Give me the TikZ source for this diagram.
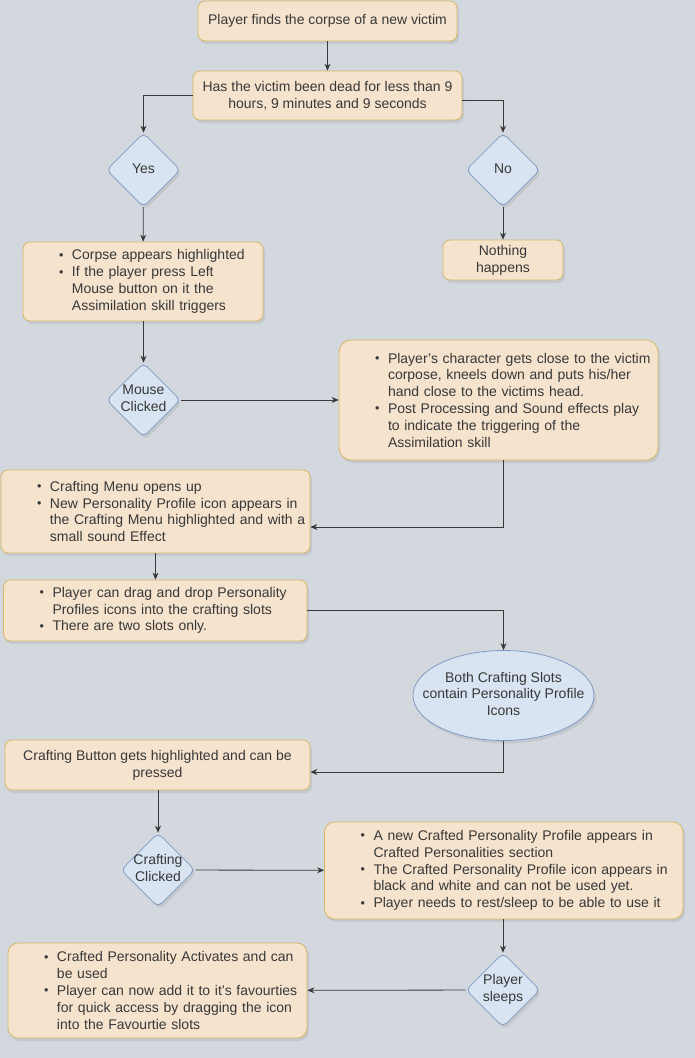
\documentclass[tikz,border=0pt]{standalone}
\usepackage{fontspec}
\setmainfont{Liberation Sans}
\usetikzlibrary{shapes.geometric,arrows.meta,shadows}

\definecolor{bg}{HTML}{D3D8DE}
\definecolor{boxfill}{HTML}{F5E3CE}
\definecolor{boxline}{HTML}{D4B765}
\definecolor{decfill}{HTML}{D9E4F2}
\definecolor{decline}{HTML}{7F9BC4}
\definecolor{ink}{HTML}{383838}

\newcommand{\itm}[1]{\mbox{\makebox[13pt][l]{\raisebox{0.6pt}{\fontsize{12.5}{12}\selectfont\textbullet}}#1}}
\newcommand{\cnt}[1]{\mbox{\hspace*{13pt}#1}}
\newcommand{\ctr}[1]{\makebox[0pt]{\raisebox{-1.5pt}{\begin{tabular}{@{}c@{}}#1\end{tabular}}}}

\begin{document}
\begin{tikzpicture}[x=1pt, y=-1pt, every node/.style={font=\fontsize{14}{16.8}\selectfont, text=ink, inner sep=0pt}, box/.style={draw=boxline, fill=boxfill, rounded corners=7pt, align=center, drop shadow={shadow xshift=2pt, shadow yshift=-3pt, opacity=0.18}}, listbox/.style={box, align=left, inner xsep=36pt}, decision/.style={diamond, aspect=1, draw=decline, fill=decfill, rounded corners=5pt, minimum size=74pt, drop shadow={shadow xshift=2pt, shadow yshift=-3pt, opacity=0.18}}, >={Stealth[length=7pt,width=6pt]}, line width=0.8pt]
\fill[bg] (0,0) rectangle (695,1058);
\useasboundingbox (0,0) rectangle (695,1058);

\node[box, minimum width=259pt, minimum height=40pt] (find) at (327.5,21) {Player finds the corpse of a new victim};
\node[box, minimum width=269pt, minimum height=49pt] (dead) at (327.5,95.5) {Has the victim been dead for less than 9\\hours, 9 minutes and 9 seconds};
\node[decision] (yes) at (143.5,170) {\ctr{Yes}};
\node[decision] (no) at (503,170) {\ctr{No}};
\node[listbox, text width=168pt, minimum height=79pt] (corpse) at (143,281.5) {\itm{Corpse appears highlighted}\\\itm{If the player press Left}\\\cnt{Mouse button on it the}\\\cnt{Assimilation skill triggers}};
\node[box, minimum width=120pt, minimum height=40pt] (nothing) at (503,260) {Nothing\\happens};
\node[decision] (mouse) at (143.5,400) {\ctr{Mouse\\Clicked}};
\node[listbox, text width=247pt, minimum height=120pt, rounded corners=12pt] (kneel) at (498.5,400) {\itm{Player's character gets close to the victim}\\\cnt{corpose, kneels down and puts his/her}\\\cnt{hand close to the victims head.}\\\itm{Post Processing and Sound effects play}\\\cnt{to indicate the triggering of the}\\\cnt{Assimilation skill}};
\node[listbox, text width=237pt, minimum height=83pt] (menu) at (155.5,511.5) {\itm{Crafting Menu opens up}\\\itm{New Personality Profile icon appears in}\\\cnt{the Crafting Menu highlighted and with a}\\\cnt{small sound Effect}};
\node[listbox, text width=231.5pt, minimum height=61pt] (drag) at (155.25,610.5) {\itm{Player can drag and drop Personality}\\\cnt{Profiles icons into the crafting slots}\\\itm{There are two slots only.}};
\node[ellipse, draw=decline, fill=decfill, minimum width=181pt, minimum height=90pt, drop shadow={shadow xshift=2pt, shadow yshift=-3pt, opacity=0.18}] (slots) at (503.5,695.5) {\ctr{Both Crafting Slots\\contain Personality Profile\\Icons}};
\node[box, minimum width=305pt, minimum height=50pt] (button) at (157.5,765) {Crafting Button gets highlighted and can be\\pressed};
\node[decision] (crafting) at (158,870) {\ctr{Crafting\\Clicked}};
\node[listbox, text width=286.5pt, minimum height=97pt, rounded corners=10pt] (crafted) at (503.75,870.5) {\itm{A new Crafted Personality Profile appears in}\\\cnt{Crafted Personalities section}\\\itm{The Crafted Personality Profile icon appears in}\\\cnt{black and white and can not be used yet.}\\\itm{Player needs to rest/sleep to be able to use it}};
\node[decision] (sleeps) at (503,990) {\ctr{Player\\sleeps}};
\node[listbox, text width=227pt, minimum height=95pt, rounded corners=10pt] (activ) at (157.5,990.5) {\itm{Crafted Personality Activates and can}\\\cnt{be used}\\\itm{Player can now add it to it's favourties}\\\cnt{for quick access by dragging the icon}\\\cnt{into the Favourtie slots}};

\draw[->, ink] (find) -- (dead);
\draw[->, ink] (dead.west) -| (yes);
\draw[->, ink] ([yshift=-4.5pt]dead.east) -| (no);
\draw[->, ink] (yes) -- (corpse);
\draw[->, ink] (no) -- (nothing);
\draw[->, ink] (corpse.south -| mouse) -- (mouse);
\draw[->, ink] (mouse) -- (kneel);
\draw[->, ink] ([xshift=4.5pt]kneel.south) |- ([yshift=-15.5pt]menu.east);
\draw[->, ink] (menu.south) -- (menu.south |- drag.north);
\draw[->, ink] (drag.east) -| (slots);
\draw[->, ink] (slots) |- ([yshift=-7pt]button.east);
\draw[->, ink] (button.south -| crafting) -- (crafting);
\draw[->, ink] (crafting) -- (crafted);
\draw[->, ink] (crafted.south -| sleeps) -- (sleeps);
\draw[->, ink] (sleeps) -- (activ);
\end{tikzpicture}
\end{document}
